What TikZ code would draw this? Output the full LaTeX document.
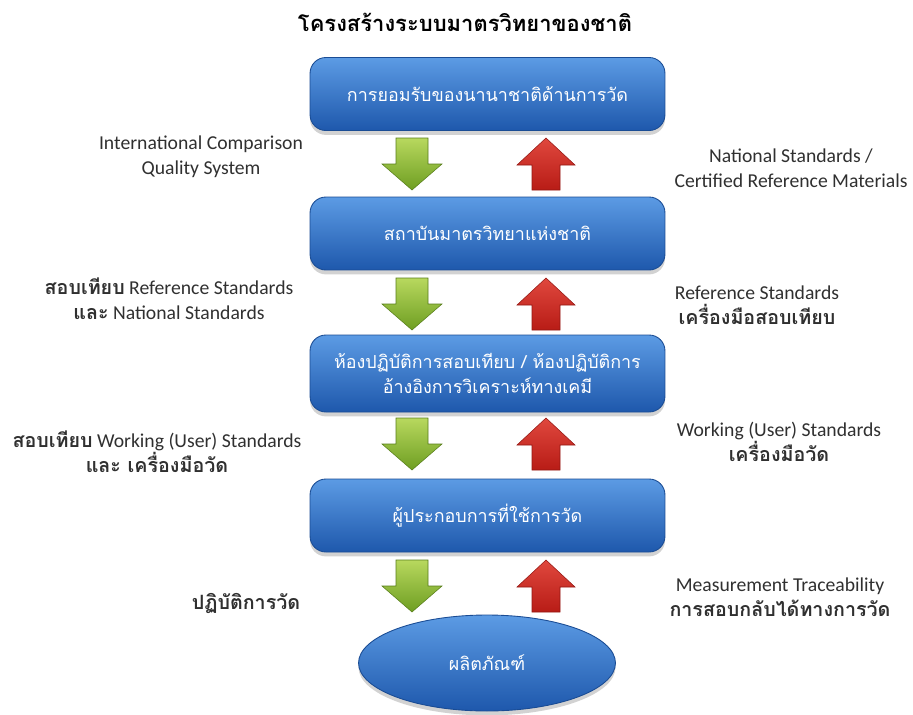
\documentclass[tikz,border=0pt]{standalone}
\usepackage{fontspec}
\setmainfont{Carlito}
\newfontfamily\thai[Script=Thai]{Loma}
\usetikzlibrary{shadows,shapes.geometric}
\definecolor{boxtop}{HTML}{5C9BE4}
\definecolor{boxbot}{HTML}{1E58AC}
\definecolor{boxedge}{HTML}{1A4C94}
\definecolor{lbl}{HTML}{303030}
\definecolor{gtop}{HTML}{B8D85E}
\definecolor{gbot}{HTML}{6E9E22}
\definecolor{rtop}{HTML}{E0483E}
\definecolor{rbot}{HTML}{B81C16}
\tikzset{
  box/.style={rectangle, rounded corners=9pt, minimum width=7.1cm, minimum height=1.46cm,
    top color=boxtop, bottom color=boxbot, draw=boxedge, line width=0.5pt,
    text=white, font=\thai\fontsize{10.2}{14}\selectfont, align=center,
    drop shadow={opacity=0.35, shadow xshift=0pt, shadow yshift=-2.5pt}},
  lbl/.style={text=lbl, font=\fontsize{11.2}{14.3}\selectfont, align=center, inner sep=0pt},
  garrow/.style={top color=gtop, bottom color=gbot, draw=gbot!80!black, line width=0.3pt},
  rarrow/.style={top color=rtop, bottom color=rbot, draw=rbot!80!black, line width=0.3pt},
}
\newcommand\thb[1]{{\thai\bfseries #1}}
% down arrow: cx, top, bottom (pixel coords)
\newcommand\gdown[3]{\path[garrow] (#1-16,#2) -- (#1+16,#2) -- (#1+16,#3-26) -- (#1+30,#3-26)
  -- (#1,#3) -- (#1-30,#3-26) -- (#1-16,#3-26) -- cycle;}
\newcommand\rup[3]{\path[rarrow] (#1-14,#3) -- (#1+14,#3) -- (#1+14,#2+27) -- (#1+29,#2+27)
  -- (#1,#2) -- (#1-29,#2+27) -- (#1-14,#2+27) -- cycle;}
\begin{document}
\begin{tikzpicture}[x=0.02cm,y=-0.02cm]
\useasboundingbox[fill=white] (0,0) rectangle (913,714);
\node[font=\thai\bfseries\fontsize{12.5}{15}\selectfont] (title) at (465,22) {โครงสร้างระบบมาตรวิทยาของชาติ};

\node[box] (b1) at (487.5,94) {การยอมรับของนานาชาติด้านการวัด};
\node[box] (b2) at (487.5,233.5) {สถาบันมาตรวิทยาแห่งชาติ};
\node[box, minimum height=1.54cm] (b3) at (487.5,373.5) {ห้องปฏิบัติการสอบเทียบ / ห้องปฏิบัติการ\\อ้างอิงการวิเคราะห์ทางเคมี};
\node[box] (b4) at (487.5,515.5) {ผู้ประกอบการที่ใช้การวัด};
\node[ellipse, minimum width=5.14cm, minimum height=1.92cm, top color=boxtop, bottom color=boxbot,
  draw=boxedge, line width=0.5pt, text=white, font=\thai\fontsize{10.2}{14}\selectfont,
  drop shadow={opacity=0.35, shadow xshift=0pt, shadow yshift=-2.5pt}] (prod) at (487,663) {ผลิตภัณฑ์};

\gdown{412}{138}{190}
\rup{546}{138}{190}
\gdown{412}{278}{330}
\rup{546}{278}{330}
\gdown{412}{418}{470}
\rup{546}{418}{470}
\gdown{412}{560}{612}
\rup{546}{560}{612}

\node[lbl] (l1) at (201,157) {International Comparison\\Quality System};
\node[lbl] (r1) at (791,168) {National Standards /\\Certified Reference Materials};
\node[lbl] (l2) at (169,299) {\thb{สอบเทียบ} Reference Standards\\\thb{และ} National Standards};
\node[lbl] (r2) at (757,305) {Reference Standards\\\thb{เครื่องมือสอบเทียบ}};
\node[lbl] (l3) at (157,452) {\thb{สอบเทียบ} Working (User) Standards\\\thb{และ เครื่องมือวัด}};
\node[lbl] (r3) at (779,442) {Working (User) Standards\\\thb{เครื่องมือวัด}};
\node[lbl] (l4) at (246,603) {\thb{ปฏิบัติการวัด}};
\node[lbl] (r4) at (780,597) {Measurement Traceability\\\thb{การสอบกลับได้ทางการวัด}};
\end{tikzpicture}
\end{document}
